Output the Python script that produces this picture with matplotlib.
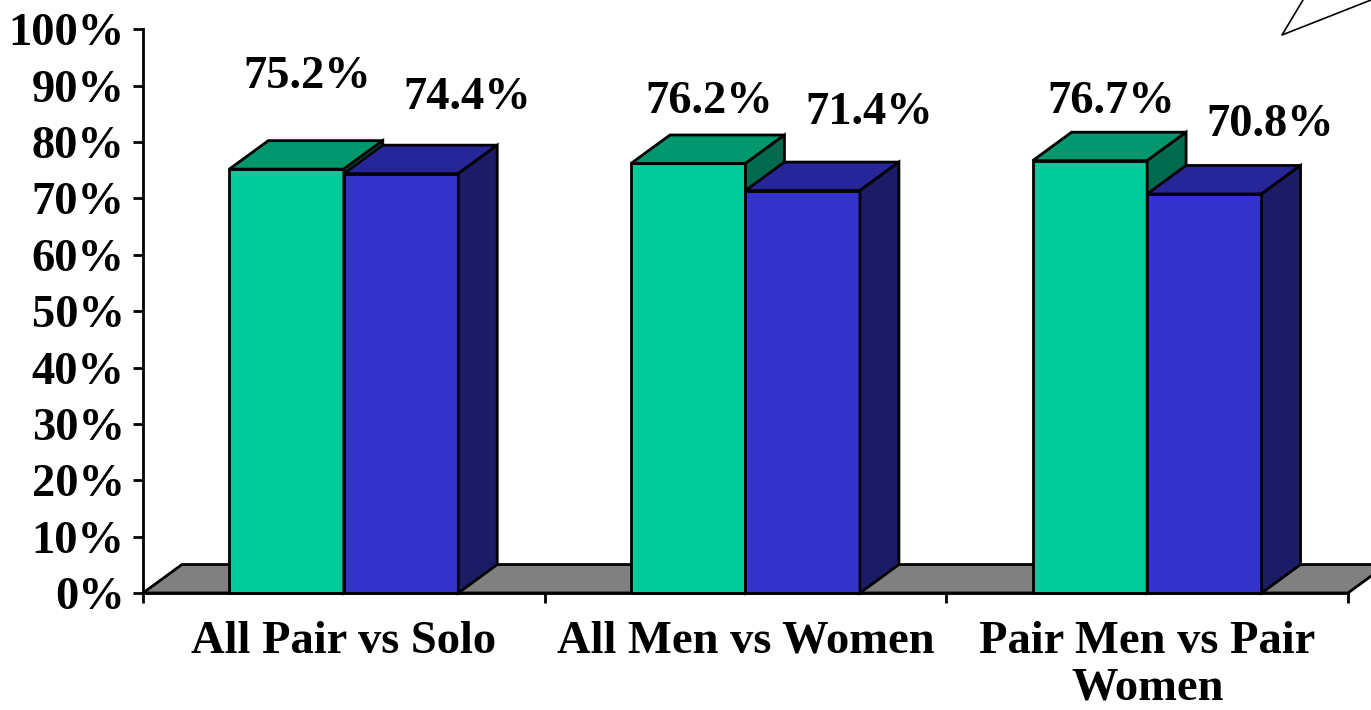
import matplotlib
matplotlib.use("Agg")
import matplotlib.pyplot as plt
from matplotlib.patches import Polygon
from matplotlib.lines import Line2D
from matplotlib.ticker import FuncFormatter

categories = ["All Pair vs Solo", "All Men vs Women", "Pair Men vs Pair\nWomen"]
green_vals = [75.2, 76.2, 76.7]
blue_vals = [74.4, 71.4, 70.8]

# face colours of each box: front, top, side
green_faces = ("#00CC99", "#00966E", "#006A4E")
blue_faces = ("#3333CC", "#262699", "#1C1C66")
floor_color = "#808080"

BAR_W = 0.285      # bar width in category units
DEPTH_X = 0.097    # box depth, category units
DEPTH_Y = 5.05     # box depth, percent units

# value labels: shift right (category units) and lift above the value (percent)
green_label_dx = 0.052
blue_label_dx = 0.165
green_label_lift = [14.4, 9.0, 8.5]
blue_label_lift = [11.5, 11.8, 10.3]

plt.rcParams["font.family"] = ["Liberation Serif", "DejaVu Serif"]
plt.rcParams["font.weight"] = "bold"
FS = 33.5

fig = plt.figure(figsize=(13.71, 7.10), dpi=100)
ax = fig.add_axes([0.1043, 0.1648, 0.8789, 0.7939])
ax.set_xlim(0, 3)
ax.set_ylim(0, 100)

edge = dict(edgecolor="black", linewidth=2.0, joinstyle="miter", clip_on=False)


def draw_box(x0, h, faces):
    front, top, side = faces
    x1 = x0 + BAR_W
    ax.add_patch(Polygon([(x0, 0), (x1, 0), (x1, h), (x0, h)], facecolor=front, **edge))
    ax.add_patch(Polygon([(x0, h), (x1, h), (x1 + DEPTH_X, h + DEPTH_Y),
                          (x0 + DEPTH_X, h + DEPTH_Y)], facecolor=top, **edge))
    ax.add_patch(Polygon([(x1, 0), (x1 + DEPTH_X, DEPTH_Y), (x1 + DEPTH_X, h + DEPTH_Y),
                          (x1, h)], facecolor=side, **edge))


# floor slab
n = len(categories)
ax.add_patch(Polygon([(0, 0), (n, 0), (n + DEPTH_X, DEPTH_Y), (DEPTH_X, DEPTH_Y)],
                     facecolor=floor_color, **edge))

for i in range(n):
    center = i + 0.5
    g0 = center - BAR_W
    b0 = center
    draw_box(g0, green_vals[i], green_faces)
    draw_box(b0, blue_vals[i], blue_faces)
    ax.text(g0 + BAR_W / 2 + green_label_dx, green_vals[i] + green_label_lift[i],
            f"{green_vals[i]:.1f}%", ha="center", va="baseline", fontsize=FS)
    ax.text(b0 + BAR_W / 2 + blue_label_dx, blue_vals[i] + blue_label_lift[i],
            f"{blue_vals[i]:.1f}%", ha="center", va="baseline", fontsize=FS)

# axes styling
for side in ("top", "right"):
    ax.spines[side].set_visible(False)
ax.spines["left"].set_linewidth(2.0)
ax.spines["bottom"].set_linewidth(2.0)

ax.set_yticks(range(0, 101, 10))
ax.yaxis.set_major_formatter(FuncFormatter(lambda v, _: f"{v:.0f}%"))
ax.tick_params(axis="y", direction="out", length=7.2, width=2.0, pad=6, labelsize=FS)

ax.set_xticks(range(0, n + 1))
ax.set_xticklabels([])
ax.set_xticks([i + 0.5 for i in range(n)], minor=True)
ax.set_xticklabels(categories, minor=True, fontsize=FS, linespacing=1.15)
ax.tick_params(axis="x", which="major", direction="out", length=7.2, width=2.0)
ax.tick_params(axis="x", which="minor", length=0, pad=20)

# callout pointer in the top-right corner
fig.add_artist(Line2D([1303 / 1371, 1282 / 1371, 1.0], [1.0, 1 - 35 / 710, 1.0],
                      transform=fig.transFigure, color="black", linewidth=1.2))

fig.savefig("out.png", dpi=100)
